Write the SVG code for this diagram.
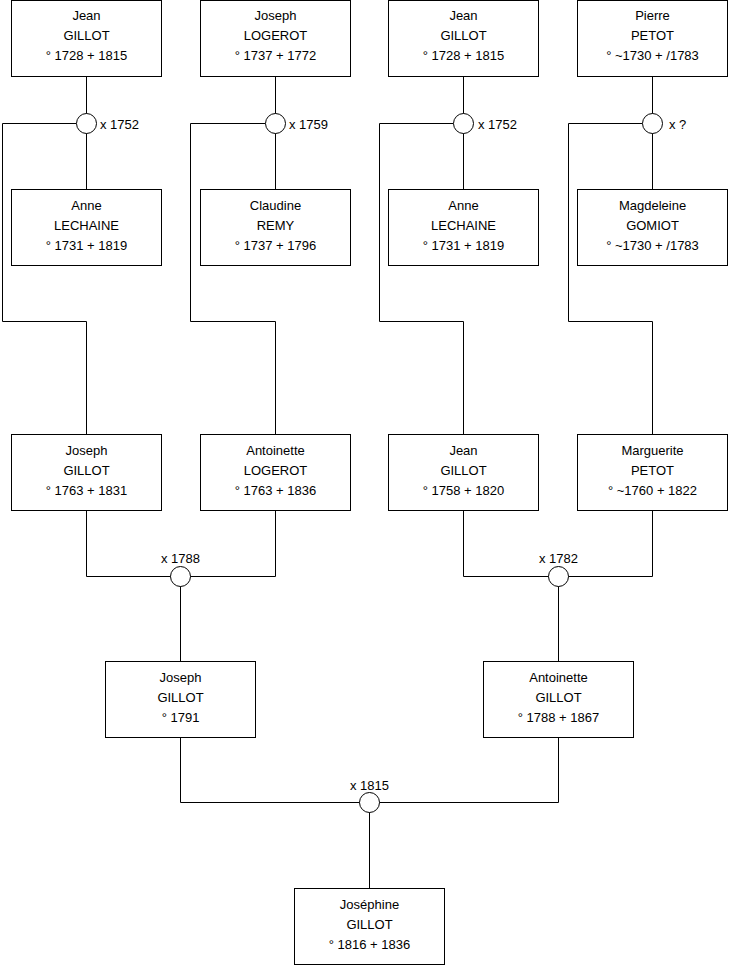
<svg xmlns="http://www.w3.org/2000/svg" width="740" height="975" viewBox="0 0 740 975">
<style>
.box{fill:#fff;stroke:#000;stroke-width:1}
.ln{fill:none;stroke:#000;stroke-width:1}
.ring{fill:#fff;stroke:#000;stroke-width:1}
text{font-family:"Liberation Sans",Arial,sans-serif;font-size:13px;fill:#000}
.c{text-anchor:middle}
</style>
<rect width="740" height="975" fill="#fff"/>
<g id="connectors">
<path class="ln" d="M86.5 76.5V189.5M275.5 76.5V189.5M463.5 76.5V189.5M652.5 76.5V189.5"/>
<path class="ln" d="M76.5 123.5H2.5V321.5H86.5V434.5"/>
<path class="ln" d="M265.5 123.5H190.5V321.5H275.5V434.5"/>
<path class="ln" d="M453.5 123.5H379.5V321.5H463.5V434.5"/>
<path class="ln" d="M642.5 123.5H568.5V321.5H652.5V434.5"/>
<path class="ln" d="M86.5 510.5V576.5H275.5V510.5M180.5 576.5V661.5"/>
<path class="ln" d="M463.5 510.5V576.5H652.5V510.5M558.5 576.5V661.5"/>
<path class="ln" d="M180.5 737.5V802.5H558.5V737.5M369.5 802.5V888.5"/>
</g>
<g id="m1"><circle class="ring" cx="86.5" cy="123.5" r="10"/><text x="100" y="128.5">x 1752</text></g>
<g id="m2"><circle class="ring" cx="275.5" cy="123.5" r="10"/><text x="289" y="128.5">x 1759</text></g>
<g id="m3"><circle class="ring" cx="463.5" cy="123.5" r="10"/><text x="478" y="128.5">x 1752</text></g>
<g id="m4"><circle class="ring" cx="652.5" cy="123.5" r="10"/><text x="669" y="128.5">x ?</text></g>
<g id="m5"><circle class="ring" cx="180.5" cy="576.5" r="10"/><text class="c" x="180.5" y="562.5">x 1788</text></g>
<g id="m6"><circle class="ring" cx="558.5" cy="576.5" r="10"/><text class="c" x="558.5" y="562.5">x 1782</text></g>
<g id="m7"><circle class="ring" cx="369.5" cy="802.5" r="10"/><text class="c" x="369.5" y="789.5">x 1815</text></g>

<g id="p1"><rect class="box" x="11.5" y="0.5" width="150" height="76"/><text class="c" x="86.5" y="20">Jean</text><text class="c" x="86.5" y="40">GILLOT</text><text class="c" x="86.5" y="60">° 1728 + 1815</text></g>
<g id="p2"><rect class="box" x="200.5" y="0.5" width="150" height="76"/><text class="c" x="275.5" y="20">Joseph</text><text class="c" x="275.5" y="40">LOGEROT</text><text class="c" x="275.5" y="60">° 1737 + 1772</text></g>
<g id="p3"><rect class="box" x="388.5" y="0.5" width="150" height="76"/><text class="c" x="463.5" y="20">Jean</text><text class="c" x="463.5" y="40">GILLOT</text><text class="c" x="463.5" y="60">° 1728 + 1815</text></g>
<g id="p4"><rect class="box" x="577.5" y="0.5" width="150" height="76"/><text class="c" x="652.5" y="20">Pierre</text><text class="c" x="652.5" y="40">PETOT</text><text class="c" x="652.5" y="60">° ~1730 + /1783</text></g>

<g id="p5"><rect class="box" x="11.5" y="189.5" width="150" height="76"/><text class="c" x="86.5" y="210">Anne</text><text class="c" x="86.5" y="230">LECHAINE</text><text class="c" x="86.5" y="250">° 1731 + 1819</text></g>
<g id="p6"><rect class="box" x="200.5" y="189.5" width="150" height="76"/><text class="c" x="275.5" y="210">Claudine</text><text class="c" x="275.5" y="230">REMY</text><text class="c" x="275.5" y="250">° 1737 + 1796</text></g>
<g id="p7"><rect class="box" x="388.5" y="189.5" width="150" height="76"/><text class="c" x="463.5" y="210">Anne</text><text class="c" x="463.5" y="230">LECHAINE</text><text class="c" x="463.5" y="250">° 1731 + 1819</text></g>
<g id="p8"><rect class="box" x="577.5" y="189.5" width="150" height="76"/><text class="c" x="652.5" y="210">Magdeleine</text><text class="c" x="652.5" y="230">GOMIOT</text><text class="c" x="652.5" y="250">° ~1730 + /1783</text></g>

<g id="p9"><rect class="box" x="11.5" y="434.5" width="150" height="76"/><text class="c" x="86.5" y="455">Joseph</text><text class="c" x="86.5" y="475">GILLOT</text><text class="c" x="86.5" y="495">° 1763 + 1831</text></g>
<g id="p10"><rect class="box" x="200.5" y="434.5" width="150" height="76"/><text class="c" x="275.5" y="455">Antoinette</text><text class="c" x="275.5" y="475">LOGEROT</text><text class="c" x="275.5" y="495">° 1763 + 1836</text></g>
<g id="p11"><rect class="box" x="388.5" y="434.5" width="150" height="76"/><text class="c" x="463.5" y="455">Jean</text><text class="c" x="463.5" y="475">GILLOT</text><text class="c" x="463.5" y="495">° 1758 + 1820</text></g>
<g id="p12"><rect class="box" x="577.5" y="434.5" width="150" height="76"/><text class="c" x="652.5" y="455">Marguerite</text><text class="c" x="652.5" y="475">PETOT</text><text class="c" x="652.5" y="495">° ~1760 + 1822</text></g>

<g id="p13"><rect class="box" x="105.5" y="661.5" width="150" height="76"/><text class="c" x="180.5" y="682">Joseph</text><text class="c" x="180.5" y="702">GILLOT</text><text class="c" x="180.5" y="722">° 1791</text></g>
<g id="p14"><rect class="box" x="483.5" y="661.5" width="150" height="76"/><text class="c" x="558.5" y="682">Antoinette</text><text class="c" x="558.5" y="702">GILLOT</text><text class="c" x="558.5" y="722">° 1788 + 1867</text></g>

<g id="p15"><rect class="box" x="294.5" y="888.5" width="150" height="76"/><text class="c" x="369.5" y="909">Joséphine</text><text class="c" x="369.5" y="929">GILLOT</text><text class="c" x="369.5" y="949">° 1816 + 1836</text></g>
</svg>
